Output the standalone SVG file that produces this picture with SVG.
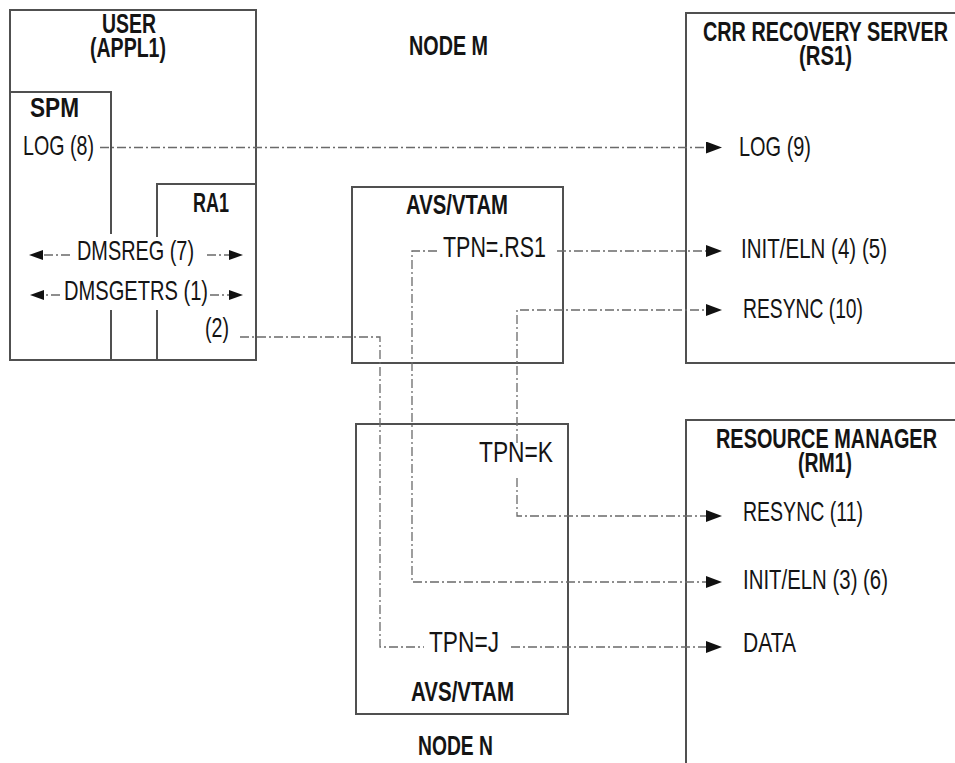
<svg xmlns="http://www.w3.org/2000/svg" width="955" height="763" viewBox="0 0 955 763">
<style>
.box{fill:none;stroke:#505050;stroke-width:2}
.c{fill:none;stroke:#6a6a6a;stroke-width:1.3;stroke-dasharray:9 3 2 3}
.t{font-family:"Liberation Sans Narrow","Liberation Sans",Arial,sans-serif;font-size:27.5px;fill:#141414}
.tp{font-size:29px}
.b{font-weight:bold;font-size:27px}
</style>
<defs>
<marker id="ah" viewBox="0 0 16 12" refX="0" refY="6" markerWidth="16" markerHeight="12" markerUnits="userSpaceOnUse" orient="auto"><path d="M0,0 L16,6 L0,12 z" fill="#111"/></marker>
<marker id="as" viewBox="0 0 14 10" refX="0" refY="5" markerWidth="14" markerHeight="10" markerUnits="userSpaceOnUse" orient="auto"><path d="M0,0 L14,5 L0,10 z" fill="#111"/></marker>
</defs>
<rect width="955" height="763" fill="#fff"/>

<g id="user">
<rect class="box" x="10" y="10" width="246" height="350"/>
<text class="t b" x="102" y="33" textLength="54" lengthAdjust="spacingAndGlyphs">USER</text>
<text class="t b" x="90" y="57" textLength="76" lengthAdjust="spacingAndGlyphs">(APPL1)</text>
</g>
<g id="spm">
<path class="box" d="M10,92 H111 V234 M111,310 V360"/>
<text class="t b" x="30" y="117" textLength="49" lengthAdjust="spacingAndGlyphs">SPM</text>
<text class="t" x="23" y="155" textLength="71" lengthAdjust="spacingAndGlyphs">LOG (8)</text>
</g>
<g id="ra1">
<path class="box" d="M256,184 H157 V237 M157,310 V360"/>
<text class="t b" x="193" y="212" textLength="36" lengthAdjust="spacingAndGlyphs">RA1</text>
<text class="t" x="77" y="260" textLength="117" lengthAdjust="spacingAndGlyphs">DMSREG (7)</text>
<text class="t" x="64" y="300" textLength="144" lengthAdjust="spacingAndGlyphs">DMSGETRS (1)</text>
<text class="t" x="205" y="337" textLength="24" lengthAdjust="spacingAndGlyphs">(2)</text>
</g>
<g id="nodeM">
<text class="t b" x="409" y="55" textLength="79" lengthAdjust="spacingAndGlyphs">NODE M</text>
</g>
<g id="avsM">
<rect class="box" x="352" y="187" width="211" height="176"/>
<text class="t b" x="406" y="214" textLength="102" lengthAdjust="spacingAndGlyphs">AVS/VTAM</text>
<text class="t tp" x="443" y="257" textLength="103" lengthAdjust="spacingAndGlyphs">TPN=.RS1</text>
</g>
<g id="avsN">
<rect class="box" x="356" y="424" width="212" height="290"/>
<text class="t tp" x="479" y="462" textLength="74" lengthAdjust="spacingAndGlyphs">TPN=K</text>
<text class="t tp" x="429" y="652" textLength="70" lengthAdjust="spacingAndGlyphs">TPN=J</text>
<text class="t b" x="411" y="701" textLength="103" lengthAdjust="spacingAndGlyphs">AVS/VTAM</text>
</g>
<g id="nodeN">
<text class="t b" x="418" y="755" textLength="75" lengthAdjust="spacingAndGlyphs">NODE N</text>
</g>
<g id="rs1">
<path class="box" d="M960,13 H686 V363 H960"/>
<text class="t b" x="703" y="41" textLength="245" lengthAdjust="spacingAndGlyphs">CRR RECOVERY SERVER</text>
<text class="t b" x="799" y="65" textLength="53" lengthAdjust="spacingAndGlyphs">(RS1)</text>
<text class="t" x="739" y="156" textLength="72" lengthAdjust="spacingAndGlyphs">LOG (9)</text>
<text class="t" x="741" y="258" textLength="146" lengthAdjust="spacingAndGlyphs">INIT/ELN (4) (5)</text>
<text class="t" x="743" y="318" textLength="120" lengthAdjust="spacingAndGlyphs">RESYNC (10)</text>
</g>
<g id="rm1">
<path class="box" d="M960,420 H686 V770"/>
<text class="t b" x="716" y="448" textLength="221" lengthAdjust="spacingAndGlyphs">RESOURCE MANAGER</text>
<text class="t b" x="798" y="472" textLength="54" lengthAdjust="spacingAndGlyphs">(RM1)</text>
<text class="t" x="743" y="521" textLength="120" lengthAdjust="spacingAndGlyphs">RESYNC (11)</text>
<text class="t" x="743" y="589" textLength="145" lengthAdjust="spacingAndGlyphs">INIT/ELN (3) (6)</text>
<text class="t" x="743" y="652" textLength="53" lengthAdjust="spacingAndGlyphs">DATA</text>
</g>

<g id="connectors">
<path class="c" d="M100,147.5 H706" marker-end="url(#ah)"/>
<path class="c" d="M70,255 H43" marker-end="url(#as)"/>
<path class="c" d="M207,255 H229" marker-end="url(#as)"/>
<path class="c" d="M60,295 H44" marker-end="url(#as)"/>
<path class="c" d="M210,295 H229" marker-end="url(#as)"/>
<path class="c" d="M437,251 H412 V582 H706" marker-end="url(#ah)"/>
<path class="c" d="M557,251 H706" marker-end="url(#ah)"/>
<path class="c" d="M517,443 V310 H706" marker-end="url(#ah)"/>
<path class="c" d="M517,478 V516 H706" marker-end="url(#ah)"/>
<path class="c" d="M240,337 H380 V647 H424"/>
<path class="c" d="M511,647 H706" marker-end="url(#ah)"/>
</g>
</svg>
